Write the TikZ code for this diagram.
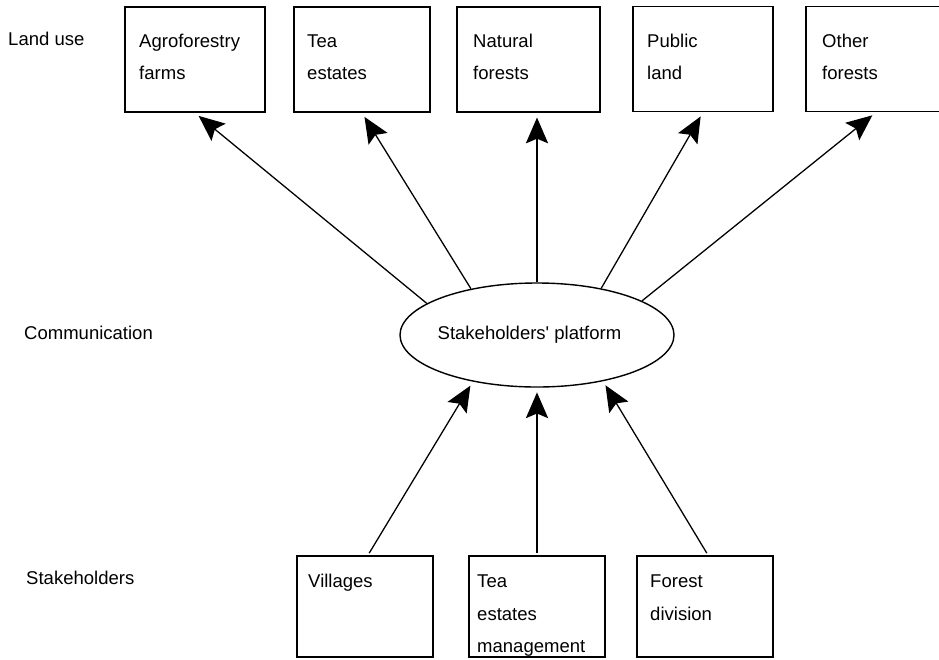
\documentclass[tikz,border=0pt]{standalone}
\usepackage{fontspec}
\setmainfont{Liberation Sans}
\usetikzlibrary{shapes.geometric,arrows.meta}
\begin{document}
\begin{tikzpicture}[x=0.03cm,y=-0.03cm,
  box/.style={draw,line width=1.5pt,inner sep=0pt,minimum height=3.15cm},
  lowbox/.style={draw,line width=1.5pt,inner sep=0pt,minimum height=3.03cm},
  txt/.style={anchor=base west,inner sep=0pt,font=\fontsize{15.8}{18}\selectfont},
  arr/.style={line width=1.1pt,-{Stealth[length=22pt,width=19pt,inset=4pt]},shorten >=4pt},
  plat/.style={draw,ellipse,line width=1.2pt,minimum width=8.22cm,minimum height=3.12cm,inner sep=0pt,font=\fontsize{15.8}{18}\selectfont}]
\useasboundingbox (0,0) rectangle (939,659);
\clip (0,0) rectangle (939,659);

% row labels
\node[txt] (l1) at (8,45) {Land use};
\node[txt] (l2) at (24,339) {Communication};
\node[txt] (l3) at (26,584) {Stakeholders};

% land use boxes
\node[box,minimum width=4.2cm]  (b1) at (195,59.5) {};
\node[box,minimum width=4.08cm] (b2) at (362,59.5) {};
\node[box,minimum width=4.29cm] (b3) at (528.5,59.5) {};
\node[box,minimum width=4.2cm]  (b4) at (703,59) {};
\node[box,minimum width=4.2cm]  (b5) at (876,59) {};

\node[txt] (t1a) at (139,47) {Agroforestry};
\node[txt] (t1b) at (139,79) {farms};
\node[txt] (t2a) at (307,47) {Tea};
\node[txt] (t2b) at (307,79) {estates};
\node[txt] (t3a) at (473,47) {Natural};
\node[txt] (t3b) at (473,79) {forests};
\node[txt] (t4a) at (647,47) {Public};
\node[txt] (t4b) at (647,79) {land};
\node[txt] (t5a) at (822,47) {Other};
\node[txt] (t5b) at (822,79) {forests};

% platform
\node[plat] (e) at (537,335) {\hspace*{-0.45cm}Stakeholders\textquotesingle\ platform};

% stakeholder boxes
\node[lowbox,minimum width=4.08cm] (c1) at (365,606.5) {};
\node[lowbox,minimum width=4.08cm] (c2) at (537,606.5) {};
\node[lowbox,minimum width=4.08cm] (c3) at (705,606.5) {};

\node[txt] (s1a) at (308,587) {Villages};
\node[txt] (s2a) at (477,587) {Tea};
\node[txt] (s2b) at (477,620) {estates};
\node[txt] (s2c) at (477,652) {management};
\node[txt] (s3a) at (650,587) {Forest};
\node[txt] (s3b) at (650,620) {division};

% arrows to land uses
\draw[arr] (e.164) -- (b1.south);
\draw[arr] (e.145) -- (b2.south);
\draw[arr] (e.north) -- (e.north |- b3.south);
\draw[arr] (e.36) -- (b4.south);
\draw[arr] (e.18) -- (b5.south);

% arrows from stakeholders
\draw[arr,shorten <=2pt] ([xshift=0.09cm]c1.north) -- (e.216);
\draw[arr,shorten <=2pt] (c2.north) -- (e.south);
\draw[arr,shorten <=2pt] ([xshift=0.09cm]c3.north) -- (e.325);
\end{tikzpicture}
\end{document}
